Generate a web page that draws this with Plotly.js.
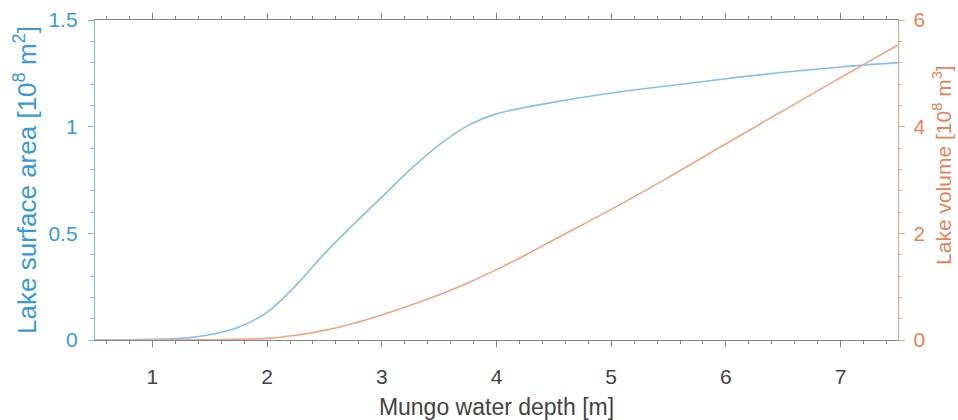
<!DOCTYPE html>
<html>
<head>
<meta charset="utf-8">
<script src="https://cdn.plot.ly/plotly-3.0.1.min.js"></script>
<style>html,body{margin:0;padding:0;background:#fff;}#chart{width:958px;height:420px;}</style>
</head>
<body>
<div id="chart"></div>
<script>
// Water depth [m]
const depth = [0.5, 1.0, 1.25, 1.5, 1.75, 2.0, 2.25, 2.5, 2.75, 3.0, 3.25, 3.5, 3.75, 4.0, 4.25, 4.5, 5.0, 5.5, 6.0, 6.5, 7.0, 7.5];
// Lake surface area [10^8 m^2]
const area = [0.0, 0.003, 0.008, 0.025, 0.06, 0.13, 0.255, 0.405, 0.54, 0.67, 0.8, 0.915, 1.005, 1.06, 1.09, 1.115, 1.158, 1.192, 1.225, 1.255, 1.28, 1.3];
// Lake volume [10^8 m^3]
const volume = [0.0, 0.0, 0.002, 0.005, 0.012, 0.03, 0.09, 0.18, 0.31, 0.47, 0.65, 0.85, 1.07, 1.32, 1.59, 1.88, 2.45, 3.05, 3.68, 4.3, 4.92, 5.53];

const xTicks = [1, 2, 3, 4, 5, 6, 7];
const areaTicks = [0, 0.5, 1, 1.5];
const volTicks = [0, 2, 4, 6];

const blue = '#3a9ad4';
const orange = '#e8845a';
const font = 'Liberation Sans, Arial, sans-serif';

const traces = [
  {x: depth, y: area, type: 'scatter', mode: 'lines', line: {color: '#86c2e3', width: 1.6, shape: 'spline', smoothing: 1}, yaxis: 'y', hoverinfo: 'none'},
  {x: depth, y: volume, type: 'scatter', mode: 'lines', line: {color: '#f0a587', width: 1.6, shape: 'spline', smoothing: 0.8}, yaxis: 'y2', hoverinfo: 'none'}
];

const layout = {
  width: 958, height: 420,
  margin: {l: 95, r: 60, t: 20, b: 80},
  paper_bgcolor: '#fff', plot_bgcolor: '#fff',
  showlegend: false,
  font: {family: font, size: 20, color: '#333'},
  xaxis: {
    range: [0.5, 7.5], tickvals: xTicks, ticktext: xTicks.map(String),
    showgrid: false, zeroline: false, showline: true, linecolor: '#888', linewidth: 1.2,
    mirror: 'ticks', ticks: 'outside', ticklen: 6, tickcolor: '#888', tickwidth: 1,
    ticklabelstandoff: 12,
    tickfont: {size: 21, color: '#444'},
    minor: {dtick: 0.2, tick0: 0, ticks: 'outside', ticklen: 3, tickcolor: '#888', showgrid: false},
    title: {text: 'Mungo water depth [m]', font: {size: 23, color: '#444'}, standoff: 12}
  },
  yaxis: {
    range: [0, 1.5], tickvals: areaTicks, ticktext: ['0', '0.5', '1', '1.5'],
    showgrid: false, zeroline: false, showline: true, linecolor: '#7fbfe3', linewidth: 1.2,
    ticks: 'outside', ticklen: 6, tickcolor: '#7fbfe3',
    ticklabelstandoff: 6,
    tickfont: {size: 21, color: blue},
    minor: {dtick: 0.1, tick0: 0, ticks: 'outside', ticklen: 3, tickcolor: '#7fbfe3', showgrid: false},
    title: {text: 'Lake surface area [10<sup>8</sup> m<sup>2</sup>]', font: {size: 26, color: blue}, standoff: 4}
  },
  yaxis2: {
    range: [0, 6], tickvals: volTicks, ticktext: volTicks.map(String),
    overlaying: 'y', side: 'right',
    showgrid: false, zeroline: false, showline: true, linecolor: '#f0a587', linewidth: 1.2,
    ticks: 'outside', ticklen: 6, tickcolor: '#f0a587',
    ticklabelstandoff: 4,
    tickfont: {size: 21, color: orange},
    minor: {dtick: 0.4, tick0: 0, ticks: 'outside', ticklen: 3, tickcolor: '#f0a587', showgrid: false}
  },
  annotations: [{
    text: 'Lake volume [10<sup>8</sup> m<sup>3</sup>]',
    xref: 'paper', yref: 'paper', x: 1, y: 0.547, xanchor: 'center', yanchor: 'middle',
    xshift: 44, textangle: -90, showarrow: false,
    font: {size: 21, color: orange, family: font}
  }]
};

Plotly.newPlot('chart', traces, layout, {displayModeBar: false, staticPlot: true});
</script>
</body>
</html>
